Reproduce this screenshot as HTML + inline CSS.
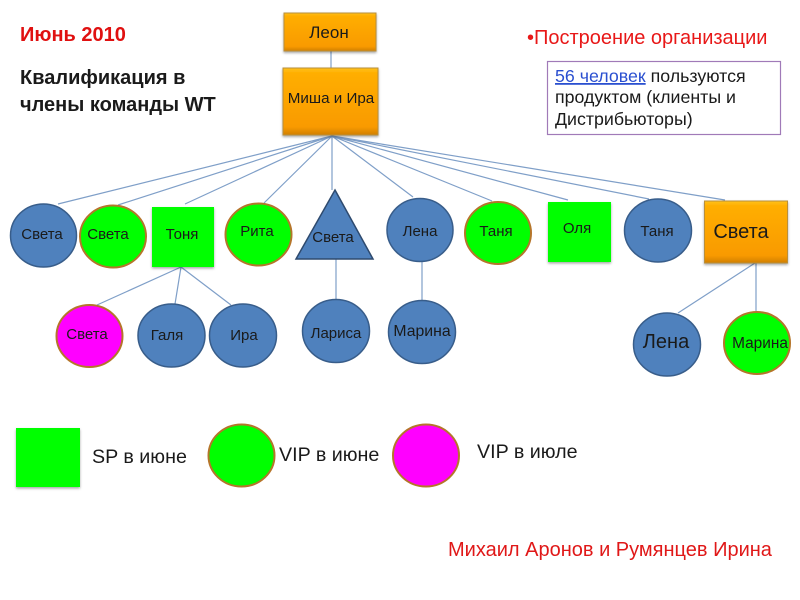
<!DOCTYPE html>
<html><head><meta charset="utf-8"><style>
html,body{margin:0;padding:0;background:#fff}
svg{display:block;font-family:"Liberation Sans","Noto Sans CJK SC",sans-serif}
text{fill:#1a1a1a}
.c{text-anchor:middle}
</style></head><body>
<svg width="800" height="600" viewBox="0 0 800 600" xmlns="http://www.w3.org/2000/svg">
<defs>
<linearGradient id="o" x1="0" y1="0" x2="0" y2="1"><stop offset="0" stop-color="#ffc21a"/><stop offset=".08" stop-color="#ffae00"/><stop offset=".88" stop-color="#f99a00"/><stop offset="1" stop-color="#d07f00"/></linearGradient>
<filter id="s" x="-10%" y="-10%" width="120%" height="125%"><feDropShadow dx="0" dy="1.5" stdDeviation="1.2" flood-color="#000" flood-opacity=".35"/></filter>
</defs>
<g stroke="#7f9fc8" stroke-width="1.2" fill="none">
<path d="M331 51V68M332 136L58 204M332 136L118 205M332 136L185 204M332 136L264 203M332 136V190M332 136L413 197M332 136L492 201M332 136L568 200M332 136L649 199M332 136L725 200M181 267L97 305M181 267L175 304M181 267L231 305M336 259V299M422 262V301M755 263L678 313M756 263V311"/>
</g>
<rect x="284" y="13" width="92" height="38" fill="url(#o)" stroke="#b98f3a" filter="url(#s)"/>
<rect x="283" y="68" width="95" height="67" fill="url(#o)" stroke="#b98f3a" filter="url(#s)"/>
<rect x="704.500" y="201" width="83" height="62" fill="url(#o)" stroke="#b98f3a" filter="url(#s)"/>
<g fill="#4f81bd" stroke="#385d8a" stroke-width="1.500">
<ellipse cx="43.500" cy="235.500" rx="33" ry="31.500"/>
<ellipse cx="171.500" cy="335.500" rx="33.500" ry="31.500"/>
<ellipse cx="243" cy="335.500" rx="33.500" ry="31.500"/>
<ellipse cx="336" cy="331" rx="33.500" ry="31.500"/>
<ellipse cx="420" cy="230" rx="33" ry="31.500"/>
<ellipse cx="422" cy="332" rx="33.500" ry="31.500"/>
<ellipse cx="658" cy="230.500" rx="33.500" ry="31.500"/>
<ellipse cx="667" cy="344.500" rx="33.500" ry="31.500"/>
<path d="M335 190L373 259H296Z" stroke="#2e4a6e"/>
</g>
<g fill="#00ff00" stroke="#b5752a" stroke-width="2">
<ellipse cx="113" cy="236.500" rx="33" ry="31"/>
<ellipse cx="258.500" cy="234.500" rx="33" ry="31"/>
<ellipse cx="498" cy="233" rx="33" ry="31"/>
<ellipse cx="757" cy="343" rx="33" ry="31"/>
<ellipse cx="241.500" cy="455.500" rx="33" ry="31"/>
</g>
<g fill="#ff00ff" stroke="#b5752a" stroke-width="2">
<ellipse cx="89.500" cy="336" rx="33" ry="31"/>
<ellipse cx="426" cy="455.500" rx="33" ry="31"/>
</g>
<g fill="#00ff00" filter="url(#s)">
<rect x="152" y="207" width="62" height="60"/>
<rect x="548" y="202" width="63" height="60"/>
<rect x="16" y="428" width="64" height="59"/>
</g>
<g font-size="15">
<text class="c" x="42" y="239">Света</text>
<text class="c" x="108" y="239">Света</text>
<text class="c" x="182" y="239">Тоня</text>
<text class="c" x="257" y="236">Рита</text>
<text class="c" x="333" y="242">Света</text>
<text class="c" x="420" y="236">Лена</text>
<text class="c" x="496" y="236">Таня</text>
<text class="c" x="577" y="233">Оля</text>
<text class="c" x="657" y="236">Таня</text>
<text class="c" x="87" y="339">Света</text>
<text class="c" x="167" y="340">Галя</text>
<text class="c" x="244" y="340">Ира</text>
<text class="c" x="336" y="338">Лариса</text>
<text class="c" x="422" y="336" font-size="15.800">Марина</text>
<text class="c" x="760" y="348" font-size="15.400">Марина</text>
<text class="c" x="331" y="103" font-size="15.200">Миша и Ира</text>
</g>
<text class="c" x="329" y="38" font-size="17">Леон</text>
<text class="c" x="741" y="238" font-size="20">Света</text>
<text class="c" x="666" y="348" font-size="20">Лена</text>
<g font-size="20" font-weight="bold">
<text x="20" y="41" style="fill:#e01010">Июнь 2010</text>
<text x="20" y="84">Квалификация в</text>
<text x="20" y="111">члены команды WT</text>
</g>
<text x="527" y="44" font-size="20" style="fill:#e81818">•Построение организации</text>
<rect x="547.500" y="61.500" width="233" height="73" fill="#fff" stroke="#a07ab8" stroke-width="1.200"/>
<g font-size="17.800" style="letter-spacing:0">
<text x="555" y="82"><tspan style="fill:#2a4fd0;text-decoration:underline">56 человек</tspan> пользуются</text>
<text x="555" y="103">продуктом (клиенты и</text>
<text x="555" y="125">Дистрибьюторы)</text>
</g>
<g font-size="19.700">
<text x="92" y="463">SP в июне</text>
<text x="279" y="461">VIP в июне</text>
<text x="477" y="458">VIP в июле</text>
</g>
<text x="448" y="556" font-size="20" style="fill:#e01818">Михаил Аронов и Румянцев Ирина</text>
</svg>
</body></html>
